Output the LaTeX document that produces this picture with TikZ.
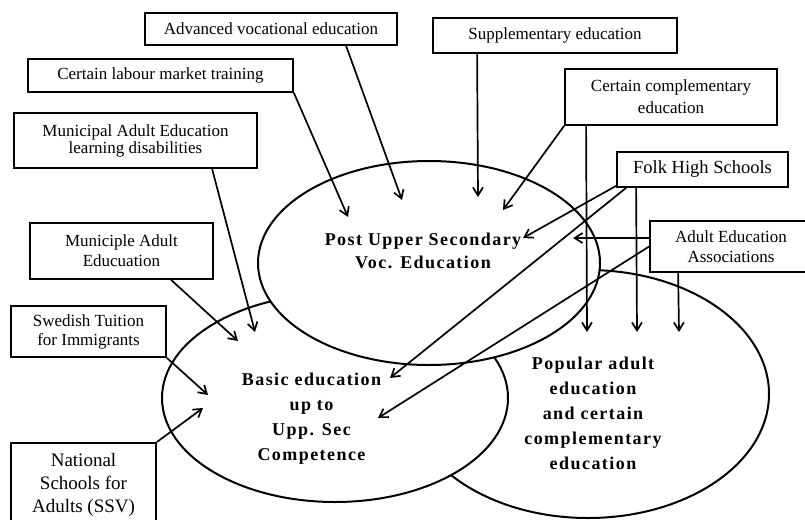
\documentclass[tikz,border=0pt]{standalone}
\usepackage{fontspec}
\setmainfont{Liberation Serif}
\newfontfamily\ellfont[LetterSpace=8]{Liberation Serif}
\usetikzlibrary{arrows.meta,calc}
\begin{document}
\begin{tikzpicture}[x=1pt,y=-1pt,
  box/.style={draw,line width=1.8pt,fill=white,align=center,inner sep=0pt},
  f17/.style={font=\fontsize{17}{#1}\selectfont},
  ell/.style={draw,line width=2pt,fill=white},
  etext/.style={align=center,inner sep=0pt},
  arr/.style={line width=1.7pt,-{Straight Barb[length=8pt,width=10pt]}}]
\useasboundingbox (0,0) rectangle (805,519);
\fill[white] (0,0) rectangle (805,519);

% ellipses (back to front)
\draw[ell] (588,394) ellipse [x radius=181pt, y radius=124pt];
\draw[ell] (335,398) ellipse [x radius=173pt, y radius=104pt];
\draw[ell] (429,263) ellipse [x radius=171pt, y radius=102pt];

% ellipse texts
\node[etext, font=\ellfont\fontsize{18}{23}\selectfont\bfseries] (posttext) at (423,250.4) {Post Upper Secondary\\Voc. Education};
\node[etext, font=\ellfont\fontsize{18}{25.3}\selectfont\bfseries] (basictext) at (311.5,418.7) {Basic education\\up to\\Upp. Sec\\Competence};
\node[etext, font=\ellfont\fontsize{18}{25}\selectfont\bfseries] (poptext) at (593,413.8) {Popular adult\\education\\and certain\\complementary\\education};

% boxes
\node[box, f17=19, minimum width=252pt, minimum height=32pt] (A) at (271,29) {Advanced vocational education};
\node[box, f17=19, minimum width=265pt, minimum height=33pt] (B) at (160.5,75.5) {Certain labour market training};
\node[box, f17=17, minimum width=243pt, minimum height=55pt] (C) at (135.5,140.5) {Municipal Adult Education\\learning disabilities};
\node[box, f17=19, minimum width=244pt, minimum height=35pt] (D) at (555,35.5) {Supplementary education};
\node[box, f17=22, minimum width=212pt, minimum height=56pt] (E) at (671,97) {Certain complementary\\education};
\node[box, font=\fontsize{18.5}{20}\selectfont, minimum width=171pt, minimum height=35pt] (F) at (702.5,169.5) {Folk High Schools};
\node[box, f17=20, minimum width=162pt, minimum height=51pt] (G) at (731,246.5) {Adult Education\\Associations};
\node[box, f17=20, minimum width=183pt, minimum height=56pt] (H) at (121.5,251) {Municiple Adult\\Educuation};
\node[box, f17=19, minimum width=155pt, minimum height=51pt] (I) at (88.5,331.5) {Swedish Tuition\\for Immigrants};
\node[box, font=\fontsize{19}{23}\selectfont, minimum width=145pt, minimum height=85pt] (J) at (83.5,485.4) {National\\Schools for\\Adults (SSV)};

% arrow tips
\coordinate (tA) at (402,200);
\coordinate (tB) at (348,217);
\coordinate (tC) at (255,332);
\coordinate (tD) at (478,197);
\coordinate (tE1) at (503,210);
\coordinate (tE2) at (587,332);
\coordinate (tF1) at (523,238);
\coordinate (tF2) at (390,378);
\coordinate (tF3) at (637,332);
\coordinate (tG1) at (573,238);
\coordinate (tG2) at (378,418);
\coordinate (tG3) at (679,332);
\coordinate (tH) at (238,341);
\coordinate (tI) at (208,395);
\coordinate (tJ) at (203,408);

% connectors
\draw[arr] ([xshift=202pt]A.south west) -- (tA);
\draw[arr] (B.south east) -- (tB);
\draw[arr] ([xshift=199pt]C.south west) -- (tC);
\draw[arr] ([xshift=45pt]D.south west) -- (tD);
\draw[arr] (E.south west) -- (tE1);
\draw[arr] ([xshift=22pt]E.south west) -- (tE2);
\draw[arr] ([yshift=2pt]F.south west) -- (tF1);
\draw[arr] ([xshift=10pt]F.south west) -- (tF2);
\draw[arr] ([xshift=20pt]F.south west) -- (tF3);
\draw[arr] ([yshift=8.5pt]G.west) -- (tG1);
\draw[arr] (G.west) -- (tG2);
\draw[arr] ([xshift=29pt]G.south west) -- (tG3);
\draw[arr] ([xshift=142pt]H.south west) -- (tH);
\draw[arr] (I.south east) -- (tI);
\draw[arr] (J.north east) -- (tJ);
\end{tikzpicture}
\end{document}
